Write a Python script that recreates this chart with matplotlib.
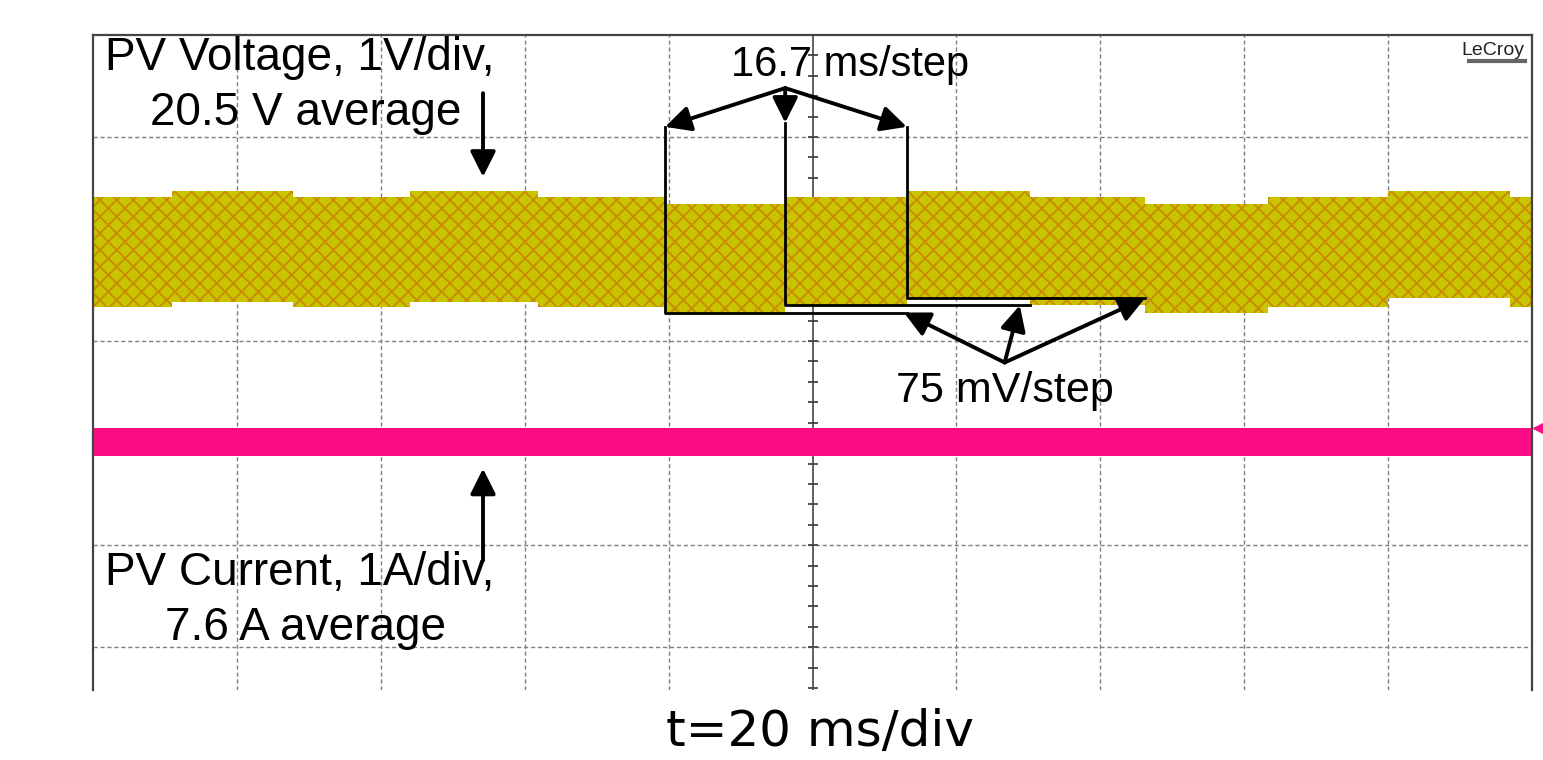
import numpy as np
import matplotlib.pyplot as plt

# step edges of the MPPT perturbation (ms) and PV voltage envelope per step (V)
t_edges = [0, 11.0, 27.8, 44.1, 61.9, 79.5, 96.2, 113.1, 130.2, 146.2, 163.3, 180.0, 196.9, 200.0]
v_top = [21.04, 21.10, 21.04, 21.10, 21.04, 20.97, 21.04, 21.10, 21.04, 20.97, 21.04, 21.10, 21.04]
v_bot = [19.96, 20.01, 19.96, 20.01, 19.96, 19.91, 19.98, 20.05, 19.98, 19.91, 19.96, 20.05, 19.96]

# PV current envelope (A)
t_cur = [0, 200]
i_top = [7.74, 7.74]
i_bot = [7.46, 7.46]

# scope settings: 20 ms/div, 1 V/div, 1 A/div, value at screen centre
t_div = 20.0
v_div, v_ref = 1.0, 18.63
i_div, i_ref = 1.0, 7.59

yellow = '#c8c400'
pink = '#fa0d85'

plt.rcParams['hatch.linewidth'] = 1.3

fig = plt.figure(figsize=(15.43, 7.6), dpi=100)
ax = fig.add_axes([0.0603, 0.0921, 0.9326, 0.8618])
ax.set_xlim(0, 200)
ax.set_ylim(-2.42, 4.0)

# graticule
for gx in np.arange(t_div, 200, t_div):
    if gx != 100:
        ax.axvline(gx, color='#808080', lw=1, ls=(0, (3, 2)), zorder=1)
for gy in [-2, -1, 1, 2, 3]:
    ax.axhline(gy, color='#808080', lw=1, ls=(0, (3, 2)), zorder=1)
ax.axvline(100, color='#555555', lw=1.3, zorder=1)
ax.axhline(0, color='#555555', lw=1.3, zorder=1)
ty = np.arange(-2.4, 4.0, 0.2)
ax.hlines(ty, 100 - 0.7, 100 + 0.7, color='#444444', lw=1.3, zorder=1)
tx = np.arange(0, 200, 4)
ax.vlines(tx, -0.05, 0.05, color='#444444', lw=1.3, zorder=1)

# PV voltage (stepped band)
yt = (np.array(v_top + [v_top[-1]]) - v_ref) / v_div
yb = (np.array(v_bot + [v_bot[-1]]) - v_ref) / v_div
ax.fill_between(t_edges, yb, yt, step='post', facecolor=yellow,
                edgecolor='#c98a00', hatch='xx', linewidth=0, zorder=2)

# PV current
ax.fill_between(t_cur, (np.array(i_bot) - i_ref) / i_div, (np.array(i_top) - i_ref) / i_div,
                color=pink, linewidth=0, zorder=2)
ax.plot([200 + 0.9], [(np.mean(i_top) - i_ref) / i_div], marker='<', ms=9,
        color=pink, clip_on=False, zorder=5)

# staircase marking three steps
tops = [3.10, 3.14, 3.10]
for k, ytop in zip([5, 6, 7], tops):
    yl = (v_bot[k] - v_ref) / v_div
    ax.plot([t_edges[k], t_edges[k], t_edges[k + 2]], [ytop, yl, yl], color='black', lw=2, zorder=3)

arrow = dict(arrowstyle='-|>,head_length=0.7,head_width=0.35', color='black', lw=2.8,
             shrinkA=0, shrinkB=0, mutation_scale=22)
apex = (t_edges[6], 3.48)
for k, ytop in zip([5, 6, 7], tops):
    ax.annotate('', xy=(t_edges[k], ytop), xytext=apex, arrowprops=arrow, zorder=4)
ax.text(105.2, 3.60, '16.7 ms/step', ha='center', va='baseline', fontsize=30,
        family='Liberation Sans')

apex2 = (126.7, 0.79)
for tip in [(112.7, (v_bot[5] - v_ref) / v_div),
            (128.8, (v_bot[6] - v_ref) / v_div),
            (t_edges[9], (v_bot[7] - v_ref) / v_div)]:
    ax.annotate('', xy=tip, xytext=apex2, arrowprops=arrow, zorder=4)
ax.text(126.7, 0.40, '75 mV/step', ha='center', va='baseline', fontsize=31,
        family='Liberation Sans')

# channel labels
ax.text(1.7, 3.657, 'PV Voltage, 1V/div,', ha='left', va='baseline', fontsize=33,
        family='Liberation Sans')
ax.text(29.5, 3.118, '20.5 V average', ha='center', va='baseline', fontsize=33,
        family='Liberation Sans')
ax.annotate('', xy=(54.2, 2.61), xytext=(54.2, 3.43), arrowprops=arrow, zorder=4)

ax.text(1.7, -1.39, 'PV Current, 1A/div,', ha='left', va='baseline', fontsize=33,
        family='Liberation Sans')
ax.text(29.5, -1.93, '7.6 A average', ha='center', va='baseline', fontsize=33,
        family='Liberation Sans')
ax.annotate('', xy=(54.2, -0.25), xytext=(54.2, -1.15), arrowprops=arrow, zorder=4)

# scope logo
ax.text(0.995, 0.977, 'LeCroy', transform=ax.transAxes, ha='right', va='center',
        fontsize=14, color='#222222', family='Liberation Sans')
ax.plot([0.956, 0.995], [0.960, 0.960], transform=ax.transAxes, color='#666666', lw=3)

for side in ['top', 'left', 'right']:
    ax.spines[side].set_color('#444444')
    ax.spines[side].set_linewidth(1.6)
ax.spines['bottom'].set_visible(False)
ax.set_xticks([])
ax.set_yticks([])

fig.text(0.5314, 0.018, 't=20 ms/div', ha='center', va='baseline', fontsize=36,
         family='DejaVu Sans')

fig.savefig('out.png', dpi=100)
